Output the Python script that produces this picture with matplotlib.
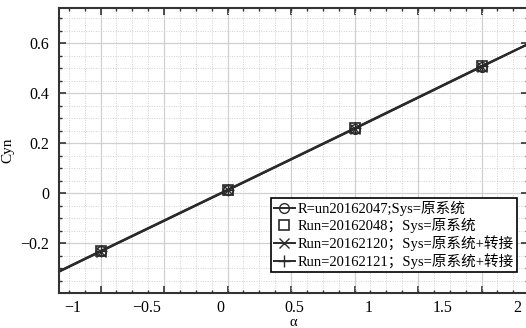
import numpy as np
import matplotlib
matplotlib.use("Agg")
import matplotlib.pyplot as plt
from matplotlib.ticker import MultipleLocator, FixedLocator, NullFormatter

plt.rcParams['font.family'] = ['Liberation Serif', 'Noto Sans CJK SC', 'DejaVu Sans']
plt.rcParams['axes.unicode_minus'] = True

# data (alpha, Cyn); outer points only carry the line past the frame
alpha = [-1.666, -0.809, 0.048, 0.905, 1.762, 2.619]
cyn_2047 = [-0.479, -0.233, 0.012, 0.258, 0.506, 0.752]
cyn_2048 = [-0.477, -0.232, 0.013, 0.259, 0.507, 0.751]
cyn_2120 = [-0.481, -0.234, 0.011, 0.257, 0.505, 0.753]
cyn_2121 = [-0.478, -0.231, 0.014, 0.260, 0.508, 0.750]

labels = ["R=un20162047;Sys=原系统",
          "Run=20162048；Sys=原系统",
          "Run=20162120；Sys=原系统+转接",
          "Run=20162121；Sys=原系统+转接"]

x_labels = [-1, -0.5, 0, 0.5, 1, 1.5, 2]
x_major = [-0.809 + 0.4283 * i for i in range(-1, 8)]
x_minor = [-0.809 + 0.10708 * i for i in range(-4, 30)]

fig = plt.figure(figsize=(5.26, 3.28), dpi=100)
ax = fig.add_axes([58.7 / 526, 1 - 292.7 / 328, (528 - 58.7) / 526, 285.2 / 328])

c = '#2a2a2a'
mk = [1, 2, 3, 4]
ax.plot(alpha, cyn_2047, color=c, lw=1.4, marker='o', ms=7, mfc='none', mec=c, markevery=mk, label=labels[0])
ax.plot(alpha, cyn_2048, color=c, ls='none', marker='s', ms=7.5, mfc='none', mec=c, mew=1.2, markevery=mk, label=labels[1])
ax.plot(alpha, cyn_2120, color=c, lw=1.4, marker='x', ms=7, markevery=mk, label=labels[2])
ax.plot(alpha, cyn_2121, color=c, lw=1.4, marker='+', ms=8, markevery=mk, label=labels[3])

ax.set_xlim(-1.091, 2.074)
ax.set_ylim(-0.398, 0.742)

ax.xaxis.set_major_locator(FixedLocator(x_major))
ax.xaxis.set_minor_locator(FixedLocator(x_minor))
ax.xaxis.set_major_formatter(NullFormatter())
ax.yaxis.set_major_locator(MultipleLocator(0.2))
ax.yaxis.set_minor_locator(MultipleLocator(0.05))
ax.yaxis.set_major_formatter(plt.FuncFormatter(lambda v, p: ('%g' % round(v, 2)).replace('-', '\u2212')))

ax.tick_params(which='both', direction='in', top=True, right=True, colors='#333333', labelsize=11.5)
ax.tick_params(which='major', length=5, width=1.2, pad=7)
ax.tick_params(which='minor', length=2.5, width=1)
ax.tick_params(axis='y', labelcolor='black')

ax.grid(which='major', color='#d0d0d0', lw=0.9, ls='-')
ax.grid(which='minor', color='#d0d0d0', lw=0.7, ls=(0, (1, 1.5)))
ax.set_axisbelow(True)
for s in ax.spines.values():
    s.set_color('#333333')
    s.set_linewidth(1.5)

sec = ax.secondary_xaxis('bottom')
sec.set_xticks(x_labels)
sec.set_xticklabels([('%g' % v).replace('-', '\u2212') for v in x_labels])
sec.tick_params(length=0, labelsize=11.5, pad=5)
sec.spines['bottom'].set_visible(False)
sec.set_xlabel('α', fontsize=10.5, labelpad=0)

ax.set_ylabel('Cyn', fontsize=11, labelpad=4)

leg = ax.legend(loc='upper left', bbox_to_anchor=(0.453, 0.333), borderaxespad=0,
                fontsize=10.5, handlelength=1.4, handletextpad=0.2, labelspacing=0.15,
                borderpad=0.2, fancybox=False, framealpha=1, edgecolor='black')
leg.get_frame().set_linewidth(1.2)

fig.savefig('out.png', dpi=100)
